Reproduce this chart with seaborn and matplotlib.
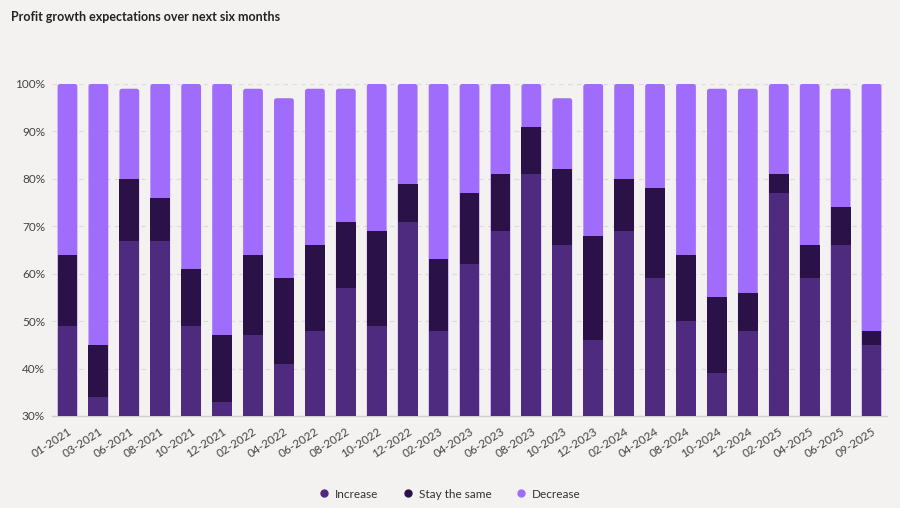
import matplotlib
matplotlib.use("Agg")
import matplotlib.pyplot as plt
import seaborn as sns
import pandas as pd
import numpy as np
from matplotlib.lines import Line2D
from matplotlib.patches import FancyBboxPatch
from matplotlib.ticker import FixedLocator, FuncFormatter

categories = ["01-2021", "03-2021", "06-2021", "08-2021", "10-2021", "12-2021",
              "02-2022", "04-2022", "06-2022", "08-2022", "10-2022", "12-2022",
              "02-2023", "04-2023", "06-2023", "08-2023", "10-2023", "12-2023",
              "02-2024", "04-2024", "08-2024", "10-2024", "12-2024",
              "02-2025", "04-2025", "06-2025", "09-2025"]
increase = [49, 34, 67, 67, 49, 33, 47, 41, 48, 57, 49, 71, 48, 62, 69, 81, 66, 46,
            69, 59, 50, 39, 48, 77, 59, 66, 45]
stay_same = [15, 11, 13, 9, 12, 14, 17, 18, 18, 14, 20, 8, 15, 15, 12, 10, 16, 22,
             11, 19, 14, 16, 8, 4, 7, 8, 3]
decrease = [36, 55, 19, 24, 39, 53, 35, 38, 33, 28, 31, 21, 37, 23, 19, 9, 15, 32,
            20, 22, 36, 44, 43, 19, 34, 25, 52]
series_names = ["Increase", "Stay the same", "Decrease"]
y_ticks = [30, 40, 50, 60, 70, 80, 90, 100]

c_inc = "#4f2b7f"
c_stay = "#2a1148"
c_dec = "#a06cfb"
bg = "#f3f2f0"

sns.set_theme(style="white")
plt.rcParams["font.family"] = ["Lato", "DejaVu Sans"]

df = pd.DataFrame({"cat": categories, "inc": increase, "stay": stay_same, "dec": decrease})
df["lvl1"] = df["inc"]
df["lvl2"] = df["inc"] + df["stay"]
df["lvl3"] = df["inc"] + df["stay"] + df["dec"]

W, H = 900, 508
L, R, T, B = 52, 887, 84, 416
fig = plt.figure(figsize=(9, 5.08), dpi=100, facecolor=bg)
ax = fig.add_axes([L/W, 1-B/H, (R-L)/W, (B-T)/H])
ax.set_facecolor(bg)

ymin, ymax = 30, 100
n = len(categories)
px_per_x = (R - L) / n
px_per_y = (B - T) / (ymax - ymin)
radius_px = 2.5
r_x = radius_px / px_per_x
aspect = px_per_x / px_per_y

# top layer (total) with rounded top corners
sns.barplot(data=df, x="cat", y="lvl3", color=c_dec, width=0.64, saturation=1,
            ax=ax, order=categories, edgecolor="none", linewidth=0)
for p in list(ax.patches):
    x0, y0 = p.get_x(), p.get_y()
    w, h = p.get_width(), p.get_height()
    p.remove()
    ax.add_patch(FancyBboxPatch((x0, y0), w, h,
                                boxstyle=f"round,pad=0,rounding_size={r_x}",
                                mutation_aspect=aspect, fc=c_dec, ec="none", zorder=3))

for col, colr in [("lvl2", c_stay), ("lvl1", c_inc)]:
    sns.barplot(data=df, x="cat", y=col, color=colr, width=0.64, saturation=1,
                ax=ax, order=categories, edgecolor="none", linewidth=0)
for p in ax.patches:
    p.set_zorder(3)

ax.set_ylim(ymin, ymax)
ax.set_xlim(-0.5, n - 0.5)
ax.yaxis.set_major_locator(FixedLocator(y_ticks))
ax.yaxis.set_major_formatter(FuncFormatter(lambda v, p: f"{int(v)}%"))
ax.grid(axis="y", color="#dcdad6", linestyle=(0, (4, 4)), linewidth=0.8, zorder=0)
ax.set_axisbelow(True)
for s in ["top", "right", "left"]:
    ax.spines[s].set_visible(False)
ax.spines["bottom"].set_color("#d0cecb")
ax.spines["bottom"].set_linewidth(1.0)
ax.set_xlabel("")
ax.set_ylabel("")

ax.set_xticks(np.arange(n))
ax.set_xticklabels(categories, rotation=33, ha="right", rotation_mode="anchor",
                   fontsize=8.5, color="#444444")
ax.tick_params(axis="x", length=0, pad=7)
ax.set_xticks(np.arange(n + 1) - 0.5, minor=True)
ax.tick_params(axis="x", which="minor", length=5, color="#d0cecb", width=1)
ax.tick_params(axis="y", length=0, pad=5, labelsize=8.5, labelcolor="#444444")

fig.text(11/W, 1-17/H, "Profit growth expectations over next six months",
         fontsize=9, fontweight="bold", color="#222222", va="center", ha="left")

handles = [Line2D([], [], marker="o", linestyle="none", markersize=5, color=c)
           for c in [c_inc, c_stay, c_dec]]
fig.legend(handles, series_names, loc="center", bbox_to_anchor=(0.5, 1-494/H),
           ncol=3, frameon=False, fontsize=8.5, handlelength=0.8, handletextpad=0.5,
           columnspacing=2.1, labelcolor="#333333")

fig.savefig("out.png", dpi=100, facecolor=bg)
